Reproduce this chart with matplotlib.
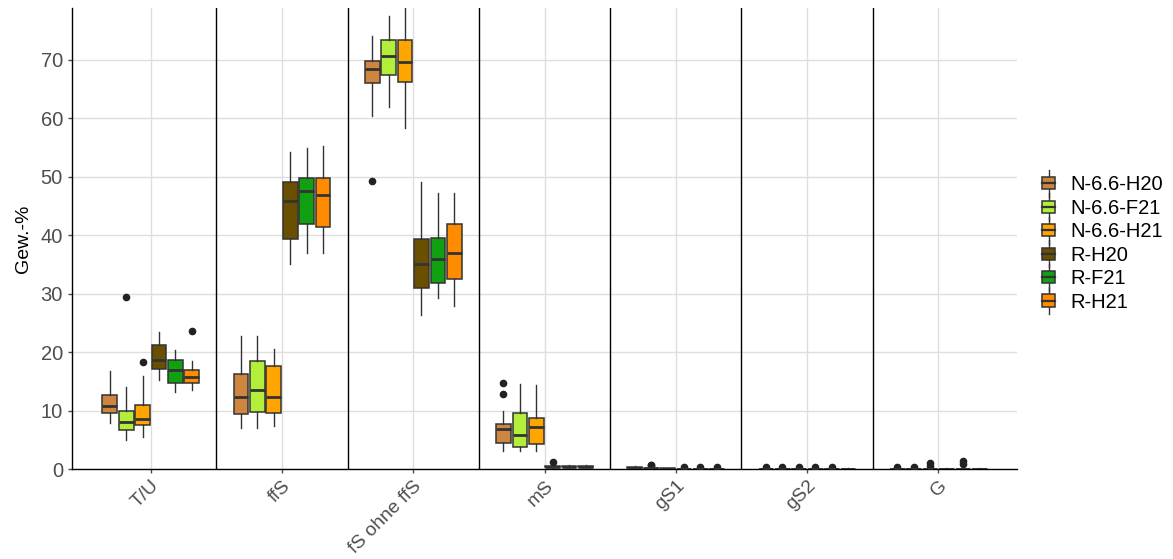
import matplotlib
matplotlib.use("Agg")
import matplotlib.pyplot as plt
from matplotlib.legend_handler import HandlerBase
from matplotlib.patches import Rectangle
from matplotlib.lines import Line2D

plt.rcParams["font.family"] = ["Liberation Sans", "DejaVu Sans"]

categories = ["T/U", "ffS", "fS ohne ffS", "mS", "gS1", "gS2", "G"]
series = ["N-6.6-H20", "N-6.6-F21", "N-6.6-H21", "R-H20", "R-F21", "R-H21"]
colors = ["#CD853F", "#B3EE3A", "#FFA500", "#6B4F00", "#11A011", "#FF8C00"]

# stats per category: [whisker low, q1, median, q3, whisker high]
n_h20 = [[7.9, 9.6, 10.8, 12.7, 16.8], [7.0, 9.4, 12.3, 16.2, 22.8], [60.4, 66.0, 68.4, 69.8, 74.1],
         [3.0, 4.5, 6.9, 7.7, 9.9], [0.0, 0.1, 0.2, 0.35, 0.5], [0.0, 0.01, 0.03, 0.06, 0.1],
         [0.0, 0.01, 0.03, 0.06, 0.1]]
n_f21 = [[5.0, 6.7, 8.0, 10.0, 14.1], [7.0, 9.7, 13.6, 18.4, 22.8], [61.9, 67.4, 70.7, 73.5, 77.5],
         [3.0, 3.8, 5.9, 9.5, 14.5], [0.0, 0.05, 0.1, 0.2, 0.35], [0.0, 0.01, 0.03, 0.06, 0.1],
         [0.0, 0.01, 0.03, 0.06, 0.1]]
n_h21 = [[5.5, 7.5, 8.6, 11.0, 15.9], [7.4, 9.5, 12.4, 17.7, 20.5], [58.4, 66.3, 69.6, 73.5, 80.5],
         [3.1, 4.2, 7.2, 8.7, 14.4], [0.0, 0.02, 0.05, 0.1, 0.2], [0.0, 0.01, 0.03, 0.06, 0.1],
         [0.0, 0.01, 0.03, 0.06, 0.1]]
r_h20 = [[15.3, 17.2, 18.7, 21.2, 23.4], [35.0, 39.4, 45.9, 49.1, 54.2], [26.4, 31.0, 35.0, 39.4, 49.2],
         [0.2, 0.3, 0.4, 0.5, 0.7], [0.0, 0.01, 0.02, 0.05, 0.1], [0.0, 0.01, 0.02, 0.05, 0.1],
         [0.0, 0.01, 0.02, 0.05, 0.1]]
r_f21 = [[13.1, 14.7, 16.9, 18.7, 20.3], [37.0, 41.9, 47.6, 49.8, 55.0], [29.2, 31.8, 35.9, 39.6, 47.3],
         [0.2, 0.3, 0.35, 0.45, 0.6], [0.0, 0.01, 0.02, 0.05, 0.1], [0.0, 0.01, 0.02, 0.05, 0.1],
         [0.0, 0.01, 0.02, 0.05, 0.1]]
r_h21 = [[13.6, 14.7, 15.8, 16.9, 18.4], [37.0, 41.4, 46.9, 49.8, 55.3], [27.9, 32.5, 37.0, 41.9, 47.2],
         [0.2, 0.3, 0.35, 0.45, 0.6], [0.0, 0.01, 0.02, 0.05, 0.1], [0.0, 0.01, 0.02, 0.05, 0.1],
         [0.0, 0.01, 0.02, 0.05, 0.1]]

# outliers per category
n_h20_out = [[], [], [49.3], [14.7, 12.8], [], [0.3], [0.4]]
n_f21_out = [[29.4], [], [], [], [0.6, 0.75], [0.3], [0.4]]
n_h21_out = [[18.3], [], [], [], [], [0.3], [0.55, 1.05]]
r_h20_out = [[], [], [], [1.2], [0.35], [0.3], []]
r_f21_out = [[], [], [], [], [0.3], [0.3], [0.8, 1.4]]
r_h21_out = [[23.6], [], [], [], [0.3], [], []]

all_stats = [n_h20, n_f21, n_h21, r_h20, r_f21, r_h21]
all_out = [n_h20_out, n_f21_out, n_h21_out, r_h20_out, r_f21_out, r_h21_out]

fig = plt.figure(figsize=(11.73, 5.59), dpi=100)
ax = fig.add_axes([0.0614, 0.161, 0.8056, 0.8247])

edge = "#333333"
dodge = 0.125
bw = 0.112
for j, (st, outs) in enumerate(zip(all_stats, all_out)):
    bxpstats = []
    pos = []
    for i in range(len(categories)):
        lo, q1, med, q3, hi = st[i]
        bxpstats.append(dict(whislo=lo, q1=q1, med=med, q3=q3, whishi=hi, fliers=outs[i]))
        pos.append(i + 1 + (j - 2.5) * dodge)
    ax.bxp(bxpstats, positions=pos, widths=bw, patch_artist=True, showcaps=False,
           boxprops=dict(facecolor=colors[j], edgecolor=edge, linewidth=1.1),
           medianprops=dict(color=edge, linewidth=2),
           whiskerprops=dict(color=edge, linewidth=1),
           flierprops=dict(marker="o", markerfacecolor="#222222", markeredgecolor="#222222",
                           markersize=4.5), zorder=3)

for k in range(1, len(categories)):
    ax.axvline(k + 0.5, color="black", linewidth=1, zorder=4)

ax.set_xlim(0.4, 7.6)
ax.set_ylim(0, 78.9)
ax.set_yticks(range(0, 80, 10))
ax.set_xticks(range(1, len(categories) + 1))
ax.set_xticklabels(categories, rotation=45, ha="right", rotation_mode="anchor")
ax.grid(True, color="#DEDEDE", linewidth=1, zorder=0)
ax.set_axisbelow(True)
for s in ["top", "right"]:
    ax.spines[s].set_visible(False)
for s in ["left", "bottom"]:
    ax.spines[s].set_color("black")
    ax.spines[s].set_linewidth(1)
ax.tick_params(axis="both", colors="#4D4D4D", length=3, width=1)
ax.tick_params(axis="y", labelsize=14.5)
ax.tick_params(axis="x", labelsize=13.8, pad=3)
ax.set_ylabel("Gew.-%", fontsize=14, color="black", labelpad=6)


class HandlerBox(HandlerBase):
    def __init__(self, color):
        super().__init__()
        self.color = color

    def create_artists(self, legend, orig_handle, xdescent, ydescent, width, height, fontsize, trans):
        cx = width / 2 - xdescent
        w = width * 0.62
        h = height * 0.72
        y0 = -ydescent + (height - h) / 2
        wl = Line2D([cx, cx], [-ydescent - height * 0.3, -ydescent + height * 1.3],
                    color=edge, linewidth=1, transform=trans)
        r = Rectangle((cx - w / 2, y0), w, h, facecolor=self.color, edgecolor=edge,
                      linewidth=1.1, transform=trans)
        m = Line2D([cx - w / 2, cx + w / 2], [y0 + h / 2, y0 + h / 2], color=edge,
                   linewidth=1.6, transform=trans)
        return [wl, r, m]


handles = [Rectangle((0, 0), 1, 1, label=s) for s in series]
hmap = {h: HandlerBox(c) for h, c in zip(handles, colors)}
fig.legend(handles=handles, labels=series, handler_map=hmap, loc="center left",
           bbox_to_anchor=(0.869, 0.565), frameon=False, fontsize=14.5,
           handlelength=1.1, handleheight=0.92, labelspacing=0.2, handletextpad=0.55)

fig.savefig("out.png", dpi=100)
